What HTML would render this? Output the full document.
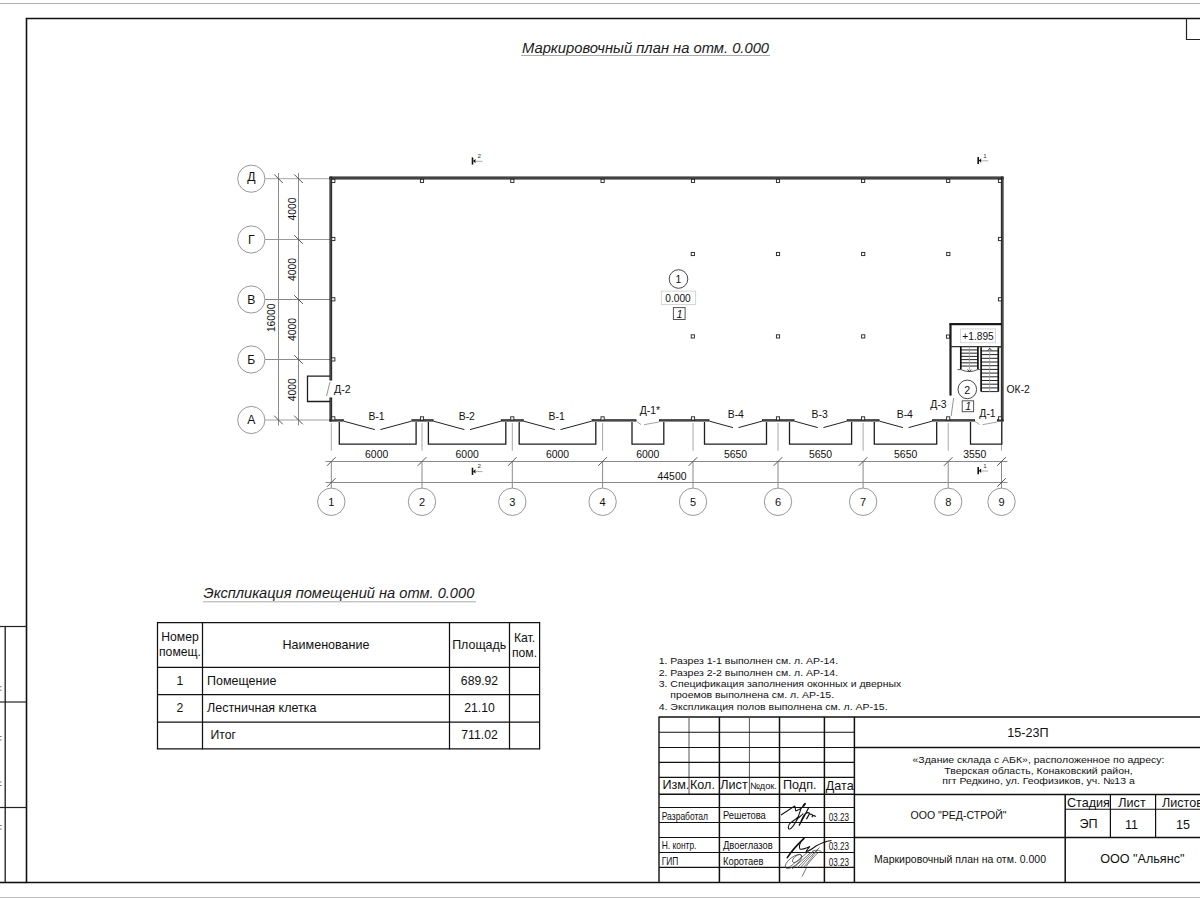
<!DOCTYPE html>
<html><head><meta charset="utf-8"><style>
html,body{margin:0;padding:0;background:#fff;width:1200px;height:900px;overflow:hidden}
svg{display:block}
text{font-family:"Liberation Sans", sans-serif}
</style></head><body>
<svg width="1200" height="900" viewBox="0 0 1200 900" style="font-family:"Liberation Sans", sans-serif">
<line x1="0" y1="3.5" x2="1200" y2="3.5" stroke="#b0b0b0" stroke-width="1" />
<line x1="0" y1="897.5" x2="1200" y2="897.5" stroke="#c0c0c0" stroke-width="1" />
<polyline points="1201,18.5 26.5,18.5 26.5,882.5 1201,882.5" stroke="#111" stroke-width="1.6" fill="none" />
<polyline points="1186.5,18 1186.5,39.5 1201,39.5" stroke="#222" stroke-width="1.2" fill="none" />
<line x1="0" y1="626.5" x2="26.5" y2="626.5" stroke="#222" stroke-width="1.2" />
<line x1="0" y1="702" x2="26.5" y2="702" stroke="#222" stroke-width="1.2" />
<line x1="0" y1="807.5" x2="26.5" y2="807.5" stroke="#222" stroke-width="1.2" />
<line x1="5.2" y1="626.5" x2="5.2" y2="882.5" stroke="#1a1a1a" stroke-width="1.3" />
<line x1="0" y1="882.5" x2="26.5" y2="882.5" stroke="#111" stroke-width="1.6" />
<line x1="0" y1="686.7" x2="1.6" y2="686.7" stroke="#777" stroke-width="1" />
<line x1="0" y1="690.2" x2="1.6" y2="690.2" stroke="#777" stroke-width="1" />
<line x1="0" y1="736.5" x2="1.6" y2="736.5" stroke="#777" stroke-width="1" />
<line x1="0" y1="740.0" x2="1.6" y2="740.0" stroke="#777" stroke-width="1" />
<line x1="0" y1="782" x2="1.6" y2="782" stroke="#777" stroke-width="1" />
<line x1="0" y1="785.5" x2="1.6" y2="785.5" stroke="#777" stroke-width="1" />
<line x1="0" y1="825.5" x2="1.6" y2="825.5" stroke="#777" stroke-width="1" />
<line x1="0" y1="829.0" x2="1.6" y2="829.0" stroke="#777" stroke-width="1" />
<text x="522" y="52.5" font-size="14.75" text-anchor="start" fill="#1a1a1a"  style="font-style:italic">Маркировочный план на отм. 0.000</text>
<line x1="521" y1="55.5" x2="770" y2="55.5" stroke="#aaa" stroke-width="1" />
<line x1="265" y1="178.7" x2="330" y2="178.7" stroke="#b8b8b8" stroke-width="1.2" />
<circle cx="251.3" cy="178.7" r="13.6" stroke="#8c8c8c" stroke-width="0.9" fill="white"/>
<text x="251.3" y="180.89999999999998" font-size="12.2" text-anchor="middle" fill="#111"  style="">Д</text>
<line x1="265" y1="239.5" x2="330" y2="239.5" stroke="#999" stroke-width="1" />
<circle cx="251.3" cy="239.5" r="13.6" stroke="#8c8c8c" stroke-width="0.9" fill="white"/>
<text x="251.3" y="243.9" font-size="12.2" text-anchor="middle" fill="#111"  style="">Г</text>
<line x1="265" y1="299.5" x2="330" y2="299.5" stroke="#858585" stroke-width="1.1" />
<circle cx="251.3" cy="299.5" r="13.6" stroke="#8c8c8c" stroke-width="0.9" fill="white"/>
<text x="251.3" y="303.9" font-size="12.2" text-anchor="middle" fill="#111"  style="">В</text>
<line x1="265" y1="359.5" x2="330" y2="359.5" stroke="#8c8c8c" stroke-width="1" />
<circle cx="251.3" cy="359.5" r="13.6" stroke="#8c8c8c" stroke-width="0.9" fill="white"/>
<text x="251.3" y="363.9" font-size="12.2" text-anchor="middle" fill="#111"  style="">Б</text>
<line x1="265" y1="420.0" x2="330" y2="420.0" stroke="#cfcfcf" stroke-width="1.8" />
<circle cx="251.3" cy="420.0" r="13.6" stroke="#8c8c8c" stroke-width="0.9" fill="white"/>
<text x="251.3" y="424.4" font-size="12.2" text-anchor="middle" fill="#111"  style="">А</text>
<line x1="278.5" y1="173" x2="278.5" y2="425.5" stroke="#8a8a8a" stroke-width="1" />
<line x1="298.5" y1="173" x2="298.5" y2="425.5" stroke="#8a8a8a" stroke-width="1" />
<line x1="274.2" y1="174.39999999999998" x2="282.8" y2="183.0" stroke="#555" stroke-width="1" />
<line x1="274.2" y1="415.7" x2="282.8" y2="424.3" stroke="#555" stroke-width="1" />
<line x1="294.2" y1="174.39999999999998" x2="302.8" y2="183.0" stroke="#555" stroke-width="1" />
<line x1="294.2" y1="235.2" x2="302.8" y2="243.8" stroke="#555" stroke-width="1" />
<line x1="294.2" y1="295.2" x2="302.8" y2="303.8" stroke="#555" stroke-width="1" />
<line x1="294.2" y1="355.2" x2="302.8" y2="363.8" stroke="#555" stroke-width="1" />
<line x1="294.2" y1="415.7" x2="302.8" y2="424.3" stroke="#555" stroke-width="1" />
<text x="0" y="0" font-size="10.3" text-anchor="middle" fill="#111" transform="translate(295.5,209.1) rotate(-90)">4000</text>
<text x="0" y="0" font-size="10.3" text-anchor="middle" fill="#111" transform="translate(295.5,269.5) rotate(-90)">4000</text>
<text x="0" y="0" font-size="10.3" text-anchor="middle" fill="#111" transform="translate(295.5,329.5) rotate(-90)">4000</text>
<text x="0" y="0" font-size="10.3" text-anchor="middle" fill="#111" transform="translate(295.5,389.75) rotate(-90)">4000</text>
<text x="0" y="0" font-size="10.3" text-anchor="middle" fill="#111" transform="translate(275.4,317.8) rotate(-90)">16000</text>
<line x1="331.3" y1="423" x2="331.3" y2="450.7" stroke="#a8a8a8" stroke-width="1" />
<line x1="331.3" y1="461.3" x2="331.3" y2="488" stroke="#8a8a8a" stroke-width="1" />
<circle cx="331.3" cy="501.8" r="13.7" stroke="#8c8c8c" stroke-width="0.9" fill="white"/>
<text x="331.3" y="506.2" font-size="11" text-anchor="middle" fill="#111"  style="">1</text>
<line x1="422.0" y1="423" x2="422.0" y2="450.7" stroke="#a8a8a8" stroke-width="1" />
<line x1="422.0" y1="461.3" x2="422.0" y2="488" stroke="#8a8a8a" stroke-width="1" />
<circle cx="422.0" cy="501.8" r="13.7" stroke="#8c8c8c" stroke-width="0.9" fill="white"/>
<text x="422.0" y="506.2" font-size="11" text-anchor="middle" fill="#111"  style="">2</text>
<line x1="512.3" y1="423" x2="512.3" y2="450.7" stroke="#a8a8a8" stroke-width="1" />
<line x1="512.3" y1="461.3" x2="512.3" y2="488" stroke="#8a8a8a" stroke-width="1" />
<circle cx="512.3" cy="501.8" r="13.7" stroke="#8c8c8c" stroke-width="0.9" fill="white"/>
<text x="512.3" y="506.2" font-size="11" text-anchor="middle" fill="#111"  style="">3</text>
<line x1="602.6" y1="423" x2="602.6" y2="450.7" stroke="#a8a8a8" stroke-width="1" />
<line x1="602.6" y1="461.3" x2="602.6" y2="488" stroke="#8a8a8a" stroke-width="1" />
<circle cx="602.6" cy="501.8" r="13.7" stroke="#8c8c8c" stroke-width="0.9" fill="white"/>
<text x="602.6" y="506.2" font-size="11" text-anchor="middle" fill="#111"  style="">4</text>
<line x1="693.0" y1="423" x2="693.0" y2="450.7" stroke="#a8a8a8" stroke-width="1" />
<line x1="693.0" y1="461.3" x2="693.0" y2="488" stroke="#8a8a8a" stroke-width="1" />
<circle cx="693.0" cy="501.8" r="13.7" stroke="#8c8c8c" stroke-width="0.9" fill="white"/>
<text x="693.0" y="506.2" font-size="11" text-anchor="middle" fill="#111"  style="">5</text>
<line x1="778.0" y1="423" x2="778.0" y2="450.7" stroke="#a8a8a8" stroke-width="1" />
<line x1="778.0" y1="461.3" x2="778.0" y2="488" stroke="#8a8a8a" stroke-width="1" />
<circle cx="778.0" cy="501.8" r="13.7" stroke="#8c8c8c" stroke-width="0.9" fill="white"/>
<text x="778.0" y="506.2" font-size="11" text-anchor="middle" fill="#111"  style="">6</text>
<line x1="863.1" y1="423" x2="863.1" y2="450.7" stroke="#a8a8a8" stroke-width="1" />
<line x1="863.1" y1="461.3" x2="863.1" y2="488" stroke="#8a8a8a" stroke-width="1" />
<circle cx="863.1" cy="501.8" r="13.7" stroke="#8c8c8c" stroke-width="0.9" fill="white"/>
<text x="863.1" y="506.2" font-size="11" text-anchor="middle" fill="#111"  style="">7</text>
<line x1="948.2" y1="423" x2="948.2" y2="450.7" stroke="#a8a8a8" stroke-width="1" />
<line x1="948.2" y1="461.3" x2="948.2" y2="488" stroke="#8a8a8a" stroke-width="1" />
<circle cx="948.2" cy="501.8" r="13.7" stroke="#8c8c8c" stroke-width="0.9" fill="white"/>
<text x="948.2" y="506.2" font-size="11" text-anchor="middle" fill="#111"  style="">8</text>
<line x1="1001.5" y1="423" x2="1001.5" y2="450.7" stroke="#a8a8a8" stroke-width="1" />
<line x1="1001.5" y1="461.3" x2="1001.5" y2="488" stroke="#8a8a8a" stroke-width="1" />
<circle cx="1001.5" cy="501.8" r="13.7" stroke="#8c8c8c" stroke-width="0.9" fill="white"/>
<text x="1001.5" y="506.2" font-size="11" text-anchor="middle" fill="#111"  style="">9</text>
<line x1="325.5" y1="461.5" x2="1007.5" y2="461.5" stroke="#8a8a8a" stroke-width="1" />
<line x1="325.5" y1="482.5" x2="1007.5" y2="482.5" stroke="#8a8a8a" stroke-width="1" />
<line x1="327.0" y1="465.8" x2="335.6" y2="457.2" stroke="#555" stroke-width="1" />
<line x1="417.7" y1="465.8" x2="426.3" y2="457.2" stroke="#555" stroke-width="1" />
<line x1="507.99999999999994" y1="465.8" x2="516.5999999999999" y2="457.2" stroke="#555" stroke-width="1" />
<line x1="598.3000000000001" y1="465.8" x2="606.9" y2="457.2" stroke="#555" stroke-width="1" />
<line x1="688.7" y1="465.8" x2="697.3" y2="457.2" stroke="#555" stroke-width="1" />
<line x1="773.7" y1="465.8" x2="782.3" y2="457.2" stroke="#555" stroke-width="1" />
<line x1="858.8000000000001" y1="465.8" x2="867.4" y2="457.2" stroke="#555" stroke-width="1" />
<line x1="943.9000000000001" y1="465.8" x2="952.5" y2="457.2" stroke="#555" stroke-width="1" />
<line x1="997.2" y1="465.8" x2="1005.8" y2="457.2" stroke="#555" stroke-width="1" />
<line x1="327.0" y1="486.8" x2="335.6" y2="478.2" stroke="#555" stroke-width="1" />
<line x1="997.2" y1="486.8" x2="1005.8" y2="478.2" stroke="#555" stroke-width="1" />
<text x="376.65" y="458.2" font-size="10.4" text-anchor="middle" fill="#111"  style="">6000</text>
<text x="467.15" y="458.2" font-size="10.4" text-anchor="middle" fill="#111"  style="">6000</text>
<text x="557.45" y="458.2" font-size="10.4" text-anchor="middle" fill="#111"  style="">6000</text>
<text x="647.8" y="458.2" font-size="10.4" text-anchor="middle" fill="#111"  style="">6000</text>
<text x="735.5" y="458.2" font-size="10.4" text-anchor="middle" fill="#111"  style="">5650</text>
<text x="820.55" y="458.2" font-size="10.4" text-anchor="middle" fill="#111"  style="">5650</text>
<text x="905.6500000000001" y="458.2" font-size="10.4" text-anchor="middle" fill="#111"  style="">5650</text>
<text x="974.85" y="458.2" font-size="10.4" text-anchor="middle" fill="#111"  style="">3550</text>
<text x="672" y="479.8" font-size="10.4" text-anchor="middle" fill="#111"  style="">44500</text>
<line x1="329.5" y1="178.0" x2="1003.5" y2="178.0" stroke="#1c1c1c" stroke-width="2.9" />
<line x1="330.5" y1="178.0" x2="1002.5" y2="178.0" stroke="#6a6a6a" stroke-width="1.0" />
<line x1="330.8" y1="176.6" x2="330.8" y2="380.5" stroke="#1c1c1c" stroke-width="2.7" />
<line x1="330.8" y1="177.6" x2="330.8" y2="379.5" stroke="#6a6a6a" stroke-width="0.8000000000000003" />
<line x1="330.8" y1="397.5" x2="330.8" y2="421.5" stroke="#1c1c1c" stroke-width="2.7" />
<line x1="330.8" y1="398.5" x2="330.8" y2="420.5" stroke="#6a6a6a" stroke-width="0.8000000000000003" />
<line x1="1002.2" y1="176.6" x2="1002.2" y2="421.5" stroke="#1c1c1c" stroke-width="2.7" />
<line x1="1002.2" y1="177.6" x2="1002.2" y2="420.5" stroke="#6a6a6a" stroke-width="0.8000000000000003" />
<line x1="329.5" y1="420.4" x2="343.8" y2="420.4" stroke="#1c1c1c" stroke-width="2.3" />
<line x1="330.5" y1="420.4" x2="342.8" y2="420.4" stroke="#6a6a6a" stroke-width="0.6" />
<line x1="411.4" y1="420.4" x2="433.6" y2="420.4" stroke="#1c1c1c" stroke-width="2.3" />
<line x1="412.4" y1="420.4" x2="432.6" y2="420.4" stroke="#6a6a6a" stroke-width="0.6" />
<line x1="500.8" y1="420.4" x2="523.8" y2="420.4" stroke="#1c1c1c" stroke-width="2.3" />
<line x1="501.8" y1="420.4" x2="522.8" y2="420.4" stroke="#6a6a6a" stroke-width="0.6" />
<line x1="591.6" y1="420.4" x2="636.5" y2="420.4" stroke="#1c1c1c" stroke-width="2.3" />
<line x1="592.6" y1="420.4" x2="635.5" y2="420.4" stroke="#6a6a6a" stroke-width="0.6" />
<line x1="659" y1="420.4" x2="709.5" y2="420.4" stroke="#1c1c1c" stroke-width="2.3" />
<line x1="660" y1="420.4" x2="708.5" y2="420.4" stroke="#6a6a6a" stroke-width="0.6" />
<line x1="762" y1="420.4" x2="794.5" y2="420.4" stroke="#1c1c1c" stroke-width="2.3" />
<line x1="763" y1="420.4" x2="793.5" y2="420.4" stroke="#6a6a6a" stroke-width="0.6" />
<line x1="846.7" y1="420.4" x2="879.6" y2="420.4" stroke="#1c1c1c" stroke-width="2.3" />
<line x1="847.7" y1="420.4" x2="878.6" y2="420.4" stroke="#6a6a6a" stroke-width="0.6" />
<line x1="932" y1="420.4" x2="975" y2="420.4" stroke="#1c1c1c" stroke-width="2.3" />
<line x1="933" y1="420.4" x2="974" y2="420.4" stroke="#6a6a6a" stroke-width="0.6" />
<line x1="997" y1="420.4" x2="1003.5" y2="420.4" stroke="#1c1c1c" stroke-width="2.3" />
<line x1="998" y1="420.4" x2="1002.5" y2="420.4" stroke="#6a6a6a" stroke-width="0.6" />
<polyline points="343.8,421.2 374.8,429.6" stroke="#222" stroke-width="1" fill="none" />
<polyline points="380.40000000000003,429.6 411.4,421.2" stroke="#222" stroke-width="1" fill="none" />
<polyline points="433.6,421.2 464.40000000000003,429.6" stroke="#222" stroke-width="1" fill="none" />
<polyline points="470.00000000000006,429.6 500.8,421.2" stroke="#222" stroke-width="1" fill="none" />
<polyline points="523.8,421.2 554.9000000000001,429.6" stroke="#222" stroke-width="1" fill="none" />
<polyline points="560.5,429.6 591.6,421.2" stroke="#222" stroke-width="1" fill="none" />
<polyline points="709.5,421.2 732.95,427.6" stroke="#222" stroke-width="1" fill="none" />
<polyline points="738.55,427.6 762,421.2" stroke="#222" stroke-width="1" fill="none" />
<polyline points="794.5,421.2 817.8000000000001,427.6" stroke="#222" stroke-width="1" fill="none" />
<polyline points="823.4,427.6 846.7,421.2" stroke="#222" stroke-width="1" fill="none" />
<polyline points="879.6,421.2 903.0,427.6" stroke="#222" stroke-width="1" fill="none" />
<polyline points="908.5999999999999,427.6 932,421.2" stroke="#222" stroke-width="1" fill="none" />
<polyline points="636.5,421.5 641.0,424.5" stroke="#999" stroke-width="0.9" fill="none" />
<polyline points="644.0,424.7 659,422" stroke="#999" stroke-width="0.9" fill="none" />
<polyline points="975,421.5 979.5,424.5" stroke="#999" stroke-width="0.9" fill="none" />
<polyline points="982.5,424.7 997,422" stroke="#999" stroke-width="0.9" fill="none" />
<polyline points="339.3,422 339.3,444.2 416.1,444.2 416.1,422" stroke="#1e1e1e" stroke-width="1.3" fill="none" />
<polyline points="428.4,422 428.4,444.2 505.8,444.2 505.8,422" stroke="#1e1e1e" stroke-width="1.3" fill="none" />
<polyline points="519.2,422 519.2,444.2 595.8,444.2 595.8,422" stroke="#1e1e1e" stroke-width="1.3" fill="none" />
<polyline points="632,422 632,444.2 663.8,444.2 663.8,422" stroke="#1e1e1e" stroke-width="1.3" fill="none" />
<polyline points="704.5,422 704.5,444.2 766.5,444.2 766.5,422" stroke="#1e1e1e" stroke-width="1.3" fill="none" />
<polyline points="789.5,422 789.5,444.2 851.6,444.2 851.6,422" stroke="#1e1e1e" stroke-width="1.3" fill="none" />
<polyline points="874.3,422 874.3,444.2 936.7,444.2 936.7,422" stroke="#1e1e1e" stroke-width="1.3" fill="none" />
<polyline points="970.5,422 970.5,444.2 1001.8,444.2 1001.8,422" stroke="#1e1e1e" stroke-width="1.3" fill="none" />
<polyline points="330,376.2 307.5,376.2 307.5,401.5 330,401.5" stroke="#1e1e1e" stroke-width="1.3" fill="none" />
<line x1="330" y1="382" x2="326.5" y2="396" stroke="#888" stroke-width="0.9" />
<text x="334" y="392.5" font-size="10.6" text-anchor="start" fill="#111"  style="">Д-2</text>
<text x="376.5" y="419.7" font-size="10.4" text-anchor="middle" fill="#111"  style="">В-1</text>
<text x="466.8" y="419.7" font-size="10.4" text-anchor="middle" fill="#111"  style="">В-2</text>
<text x="556.7" y="419.7" font-size="10.4" text-anchor="middle" fill="#111"  style="">В-1</text>
<text x="735.8" y="417.9" font-size="10.4" text-anchor="middle" fill="#111"  style="">В-4</text>
<text x="819.7" y="417.9" font-size="10.4" text-anchor="middle" fill="#111"  style="">В-3</text>
<text x="904.8" y="417.9" font-size="10.4" text-anchor="middle" fill="#111"  style="">В-4</text>
<text x="650" y="414.4" font-size="10.4" text-anchor="middle" fill="#111"  style="">Д-1*</text>
<text x="938.5" y="408.2" font-size="10.4" text-anchor="middle" fill="#111"  style="">Д-3</text>
<text x="987.5" y="416.6" font-size="10.4" text-anchor="middle" fill="#111"  style="">Д-1</text>
<text x="1006.5" y="392.5" font-size="10.4" text-anchor="start" fill="#111"  style="">ОК-2</text>
<rect x="420.4" y="179.3" width="3.2" height="3.2" stroke="#222" stroke-width="0.9" fill="white" />
<rect x="420.4" y="416.79999999999995" width="3.2" height="3.2" stroke="#222" stroke-width="0.9" fill="white" />
<rect x="510.69999999999993" y="179.3" width="3.2" height="3.2" stroke="#222" stroke-width="0.9" fill="white" />
<rect x="510.69999999999993" y="416.79999999999995" width="3.2" height="3.2" stroke="#222" stroke-width="0.9" fill="white" />
<rect x="601.0" y="179.3" width="3.2" height="3.2" stroke="#222" stroke-width="0.9" fill="white" />
<rect x="601.0" y="416.79999999999995" width="3.2" height="3.2" stroke="#222" stroke-width="0.9" fill="white" />
<rect x="691.4" y="179.3" width="3.2" height="3.2" stroke="#222" stroke-width="0.9" fill="white" />
<rect x="691.4" y="416.79999999999995" width="3.2" height="3.2" stroke="#222" stroke-width="0.9" fill="white" />
<rect x="776.4" y="179.3" width="3.2" height="3.2" stroke="#222" stroke-width="0.9" fill="white" />
<rect x="776.4" y="416.79999999999995" width="3.2" height="3.2" stroke="#222" stroke-width="0.9" fill="white" />
<rect x="861.5" y="179.3" width="3.2" height="3.2" stroke="#222" stroke-width="0.9" fill="white" />
<rect x="861.5" y="416.79999999999995" width="3.2" height="3.2" stroke="#222" stroke-width="0.9" fill="white" />
<rect x="946.6" y="179.3" width="3.2" height="3.2" stroke="#222" stroke-width="0.9" fill="white" />
<rect x="946.6" y="416.79999999999995" width="3.2" height="3.2" stroke="#222" stroke-width="0.9" fill="white" />
<rect x="331.7" y="179.3" width="3.2" height="3.2" stroke="#222" stroke-width="0.9" fill="white" />
<rect x="998.4" y="179.3" width="3.2" height="3.2" stroke="#222" stroke-width="0.9" fill="white" />
<rect x="331.7" y="416.79999999999995" width="3.2" height="3.2" stroke="#222" stroke-width="0.9" fill="white" />
<rect x="998.4" y="416.79999999999995" width="3.2" height="3.2" stroke="#222" stroke-width="0.9" fill="white" />
<rect x="331.7" y="237.4" width="3.2" height="3.2" stroke="#222" stroke-width="0.9" fill="white" />
<rect x="331.7" y="297.7" width="3.2" height="3.2" stroke="#222" stroke-width="0.9" fill="white" />
<rect x="331.7" y="357.79999999999995" width="3.2" height="3.2" stroke="#222" stroke-width="0.9" fill="white" />
<rect x="998.4" y="237.4" width="3.2" height="3.2" stroke="#222" stroke-width="0.9" fill="white" />
<rect x="998.4" y="297.7" width="3.2" height="3.2" stroke="#222" stroke-width="0.9" fill="white" />
<rect x="691.1999999999999" y="252.4" width="3.2" height="3.2" stroke="#222" stroke-width="0.9" fill="white" />
<rect x="776.4" y="252.4" width="3.2" height="3.2" stroke="#222" stroke-width="0.9" fill="white" />
<rect x="861.6" y="252.4" width="3.2" height="3.2" stroke="#222" stroke-width="0.9" fill="white" />
<rect x="946.6999999999999" y="252.4" width="3.2" height="3.2" stroke="#222" stroke-width="0.9" fill="white" />
<rect x="691.1999999999999" y="334.79999999999995" width="3.2" height="3.2" stroke="#222" stroke-width="0.9" fill="white" />
<rect x="776.4" y="334.79999999999995" width="3.2" height="3.2" stroke="#222" stroke-width="0.9" fill="white" />
<rect x="861.6" y="334.79999999999995" width="3.2" height="3.2" stroke="#222" stroke-width="0.9" fill="white" />
<rect x="946.5" y="335.0" width="3.2" height="3.2" stroke="#222" stroke-width="0.9" fill="white" />
<line x1="949.4" y1="324.2" x2="1002" y2="324.2" stroke="#1c1c1c" stroke-width="2.2" />
<line x1="950.5" y1="323.5" x2="950.5" y2="395.6" stroke="#1c1c1c" stroke-width="2.2" />
<line x1="950.5" y1="346.7" x2="1002" y2="346.7" stroke="#333" stroke-width="1.2" />
<line x1="953.6" y1="398" x2="951.2" y2="416" stroke="#888" stroke-width="0.9" />
<rect x="960.6" y="328.9" width="34.9" height="13.8" stroke="#d8d8d8" stroke-width="1" fill="white" />
<text x="978" y="339.6" font-size="10.2" text-anchor="middle" fill="#111"  style="">+1.895</text>
<line x1="960.8" y1="349.92857142857144" x2="977.9" y2="349.92857142857144" stroke="#222" stroke-width="1.0" />
<line x1="960.8" y1="353.15714285714284" x2="977.9" y2="353.15714285714284" stroke="#222" stroke-width="1.0" />
<line x1="960.8" y1="356.3857142857143" x2="977.9" y2="356.3857142857143" stroke="#222" stroke-width="1.0" />
<line x1="960.8" y1="359.6142857142857" x2="977.9" y2="359.6142857142857" stroke="#222" stroke-width="1.0" />
<line x1="960.8" y1="362.84285714285716" x2="977.9" y2="362.84285714285716" stroke="#222" stroke-width="1.0" />
<line x1="960.8" y1="366.07142857142856" x2="977.9" y2="366.07142857142856" stroke="#222" stroke-width="1.0" />
<line x1="960.8" y1="346.7" x2="960.8" y2="369.3" stroke="#111" stroke-width="1.7" />
<line x1="977.9" y1="346.7" x2="977.9" y2="369.3" stroke="#111" stroke-width="1.7" />
<line x1="969.3499999999999" y1="346.7" x2="969.3499999999999" y2="369.8" stroke="#999" stroke-width="0.8" />
<path d="M957.5,369.6 L961,369.6 Q969.3,373.6 977.6,369.6 L980,369.6" stroke="#444" stroke-width="0.9" fill="none"/>
<path d="M967.6,369.4 L969.4,371.8 L971.2,369.4" stroke="#222" stroke-width="0.9" fill="none"/>
<line x1="981.1" y1="350.9" x2="998.3" y2="350.9" stroke="#222" stroke-width="1.0" />
<line x1="981.1" y1="354.6" x2="998.3" y2="354.6" stroke="#222" stroke-width="1.0" />
<line x1="981.1" y1="358.3" x2="998.3" y2="358.3" stroke="#222" stroke-width="1.0" />
<line x1="981.1" y1="362.0" x2="998.3" y2="362.0" stroke="#222" stroke-width="1.0" />
<line x1="981.1" y1="365.7" x2="998.3" y2="365.7" stroke="#222" stroke-width="1.0" />
<line x1="981.1" y1="369.4" x2="998.3" y2="369.4" stroke="#222" stroke-width="1.0" />
<line x1="981.1" y1="373.1" x2="998.3" y2="373.1" stroke="#222" stroke-width="1.0" />
<line x1="981.1" y1="376.8" x2="998.3" y2="376.8" stroke="#222" stroke-width="1.0" />
<line x1="981.1" y1="380.5" x2="998.3" y2="380.5" stroke="#222" stroke-width="1.0" />
<line x1="981.1" y1="384.20000000000005" x2="998.3" y2="384.20000000000005" stroke="#222" stroke-width="1.0" />
<line x1="981.1" y1="387.90000000000003" x2="998.3" y2="387.90000000000003" stroke="#222" stroke-width="1.0" />
<line x1="981.1" y1="391.6" x2="998.3" y2="391.6" stroke="#222" stroke-width="1.0" />
<line x1="981.1" y1="347.2" x2="981.1" y2="391.6" stroke="#111" stroke-width="1.7" />
<line x1="998.3" y1="347.2" x2="998.3" y2="391.6" stroke="#111" stroke-width="1.7" />
<line x1="989.7" y1="347.2" x2="989.7" y2="392.1" stroke="#999" stroke-width="0.8" />
<path d="M987.8,350.5 L989.8,348.3 L991.8,350.5" stroke="#222" stroke-width="0.9" fill="none"/>
<line x1="998.6" y1="347" x2="1002" y2="347" stroke="#333" stroke-width="1" />
<circle cx="967.3" cy="389.4" r="9.3" stroke="#333" stroke-width="0.9" fill="none"/>
<text x="967.3" y="394.0" font-size="10.6" text-anchor="middle" fill="#111"  style="">2</text>
<rect x="962.2" y="400.8" width="11.4" height="10.9" stroke="#555" stroke-width="1" fill="none" />
<text x="968.2" y="410.2" font-size="10.6" text-anchor="middle" fill="#111"  style="font-style:italic">1</text>
<circle cx="678.5" cy="279" r="9.3" stroke="#333" stroke-width="0.9" fill="none"/>
<text x="678.5" y="283" font-size="10.4" text-anchor="middle" fill="#111"  style="">1</text>
<rect x="661.4" y="291.1" width="34.2" height="13.4" stroke="#d5d5d5" stroke-width="1" fill="white" />
<text x="678" y="301.6" font-size="10.2" text-anchor="middle" fill="#111"  style="">0.000</text>
<rect x="673.4" y="307.6" width="11.7" height="11.9" stroke="#555" stroke-width="1" fill="none" />
<text x="679.5" y="317.5" font-size="10.8" text-anchor="middle" fill="#111"  style="font-style:italic">1</text>
<line x1="472.5" y1="157.4" x2="472.5" y2="164.6" stroke="#111" stroke-width="1.6" />
<path d="M473.0,161.1 L475.5,158.9 L475.5,163.29999999999998 Z" fill="#111"/>
<line x1="475.5" y1="161.29999999999998" x2="482.5" y2="161.29999999999998" stroke="#aaa" stroke-width="1" />
<text x="479.3" y="158.1" font-size="6.2" text-anchor="middle" fill="#333"  style="">2</text>
<line x1="472.5" y1="467.7" x2="472.5" y2="474.9" stroke="#111" stroke-width="1.6" />
<path d="M473.0,471.4 L475.5,469.2 L475.5,473.59999999999997 Z" fill="#111"/>
<line x1="475.5" y1="471.59999999999997" x2="482.5" y2="471.59999999999997" stroke="#aaa" stroke-width="1" />
<text x="479.3" y="468.4" font-size="6.2" text-anchor="middle" fill="#333"  style="">2</text>
<line x1="978.2" y1="156.9" x2="978.2" y2="164.1" stroke="#111" stroke-width="1.6" />
<path d="M978.7,160.6 L981.2,158.4 L981.2,162.79999999999998 Z" fill="#111"/>
<line x1="981.2" y1="160.79999999999998" x2="988.2" y2="160.79999999999998" stroke="#aaa" stroke-width="1" />
<text x="985.0" y="157.6" font-size="6.2" text-anchor="middle" fill="#333"  style="">1</text>
<line x1="978.2" y1="467.1" x2="978.2" y2="474.3" stroke="#111" stroke-width="1.6" />
<path d="M978.7,470.8 L981.2,468.6 L981.2,473.0 Z" fill="#111"/>
<line x1="981.2" y1="471.0" x2="988.2" y2="471.0" stroke="#aaa" stroke-width="1" />
<text x="985.0" y="467.8" font-size="6.2" text-anchor="middle" fill="#333"  style="">1</text>
<text x="203.5" y="598.3" font-size="14.65" text-anchor="start" fill="#1a1a1a"  style="font-style:italic">Экспликация помещений на отм. 0.000</text>
<line x1="203" y1="601.8" x2="476" y2="601.8" stroke="#aaa" stroke-width="1" />
<line x1="157.5" y1="621.9" x2="157.5" y2="749.4" stroke="#111" stroke-width="1.25" />
<line x1="202.5" y1="621.9" x2="202.5" y2="749.4" stroke="#111" stroke-width="1.25" />
<line x1="449.5" y1="621.9" x2="449.5" y2="749.4" stroke="#111" stroke-width="1.25" />
<line x1="509.5" y1="621.9" x2="509.5" y2="749.4" stroke="#111" stroke-width="1.25" />
<line x1="539.6" y1="621.9" x2="539.6" y2="749.4" stroke="#111" stroke-width="1.25" />
<line x1="157.5" y1="622.5" x2="539.6" y2="622.5" stroke="#111" stroke-width="1.25" />
<line x1="157.5" y1="667.3" x2="539.6" y2="667.3" stroke="#111" stroke-width="1.25" />
<line x1="157.5" y1="694.7" x2="539.6" y2="694.7" stroke="#111" stroke-width="1.25" />
<line x1="157.5" y1="722.1" x2="539.6" y2="722.1" stroke="#111" stroke-width="1.25" />
<line x1="157.5" y1="748.8" x2="539.6" y2="748.8" stroke="#111" stroke-width="1.25" />
<text x="180" y="641" font-size="12.2" text-anchor="middle" fill="#111"  style="">Номер</text>
<text x="180" y="656" font-size="12.2" text-anchor="middle" fill="#111"  style="">помещ.</text>
<text x="0" y="0" font-size="12.2" text-anchor="middle" fill="#111" transform="translate(326,649.3) scale(1.03,1)">Наименование</text>
<text x="0" y="0" font-size="12.2" text-anchor="middle" fill="#111" transform="translate(479.2,649) scale(1.02,1)">Площадь</text>
<text x="524.5" y="641.7" font-size="12.2" text-anchor="middle" fill="#111"  style="">Кат.</text>
<text x="524.5" y="656.7" font-size="12.2" text-anchor="middle" fill="#111"  style="">пом.</text>
<text x="180" y="685.3" font-size="12.2" text-anchor="middle" fill="#111"  style="">1</text>
<text x="0" y="0" font-size="12.2" text-anchor="start" fill="#111" transform="translate(207,685.3) scale(1.025,1)">Помещение</text>
<text x="479.5" y="685.3" font-size="12.2" text-anchor="middle" fill="#111"  style="">689.92</text>
<text x="180" y="712" font-size="12.2" text-anchor="middle" fill="#111"  style="">2</text>
<text x="0" y="0" font-size="12.2" text-anchor="start" fill="#111" transform="translate(207,712) scale(1.025,1)">Лестничная клетка</text>
<text x="479.5" y="712" font-size="12.2" text-anchor="middle" fill="#111"  style="">21.10</text>
<text x="210.5" y="739.2" font-size="12.2" text-anchor="start" fill="#111"  style="">Итог</text>
<text x="479.5" y="739.2" font-size="12.2" text-anchor="middle" fill="#111"  style="">711.02</text>
<text x="0" y="0" font-size="9.15" text-anchor="start" fill="#111" transform="translate(658.7,664.4) scale(1.148,1)">1. Разрез 1-1 выполнен см. л. АР-14.</text>
<text x="0" y="0" font-size="9.15" text-anchor="start" fill="#111" transform="translate(658.7,675.7) scale(1.148,1)">2. Разрез 2-2 выполнен см. л. АР-14.</text>
<text x="0" y="0" font-size="9.15" text-anchor="start" fill="#111" transform="translate(658.7,686.9) scale(1.148,1)">3. Спецификация заполнения оконных и дверных</text>
<text x="0" y="0" font-size="9.15" text-anchor="start" fill="#111" transform="translate(670.3,698.1) scale(1.148,1)">проемов выполнена см. л. АР-15.</text>
<text x="0" y="0" font-size="9.15" text-anchor="start" fill="#111" transform="translate(658.7,709.6) scale(1.148,1)">4. Экспликация полов выполнена см. л. АР-15.</text>
<line x1="658.5" y1="717" x2="1201" y2="717" stroke="#111" stroke-width="1.6" />
<line x1="659" y1="717" x2="659" y2="882.5" stroke="#111" stroke-width="1.4" />
<line x1="719.4" y1="717" x2="719.4" y2="882.5" stroke="#111" stroke-width="1.5" />
<line x1="779.5" y1="717" x2="779.5" y2="882.5" stroke="#111" stroke-width="1.5" />
<line x1="824.4" y1="717" x2="824.4" y2="882.5" stroke="#111" stroke-width="1.5" />
<line x1="854.4" y1="717" x2="854.4" y2="882.5" stroke="#111" stroke-width="1.5" />
<line x1="689" y1="717" x2="689" y2="794.3" stroke="#555" stroke-width="1" />
<line x1="749.4" y1="717" x2="749.4" y2="794.3" stroke="#555" stroke-width="1" />
<line x1="659" y1="732.3" x2="854.4" y2="732.3" stroke="#111" stroke-width="1.1" />
<line x1="659" y1="747.5" x2="854.4" y2="747.5" stroke="#111" stroke-width="1.1" />
<line x1="659" y1="762.4" x2="854.4" y2="762.4" stroke="#111" stroke-width="1.1" />
<line x1="659" y1="777.4" x2="854.4" y2="777.4" stroke="#111" stroke-width="1.1" />
<line x1="659" y1="794.3" x2="854.4" y2="794.3" stroke="#111" stroke-width="1.4" />
<line x1="659" y1="807.5" x2="854.4" y2="807.5" stroke="#111" stroke-width="1.1" />
<line x1="659" y1="822.5" x2="854.4" y2="822.5" stroke="#111" stroke-width="1.1" />
<line x1="659" y1="837.5" x2="854.4" y2="837.5" stroke="#111" stroke-width="1.1" />
<line x1="659" y1="852.5" x2="854.4" y2="852.5" stroke="#111" stroke-width="1.1" />
<line x1="659" y1="867.4" x2="854.4" y2="867.4" stroke="#111" stroke-width="1.1" />
<line x1="854.4" y1="747.4" x2="1201" y2="747.4" stroke="#111" stroke-width="1.5" />
<line x1="854.4" y1="794.5" x2="1201" y2="794.5" stroke="#111" stroke-width="1.5" />
<line x1="854.4" y1="837.5" x2="1201" y2="837.5" stroke="#111" stroke-width="1.5" />
<line x1="1065.2" y1="794.5" x2="1065.2" y2="882.5" stroke="#111" stroke-width="1.5" />
<line x1="1110.4" y1="794.5" x2="1110.4" y2="837.5" stroke="#111" stroke-width="1.2" />
<line x1="1155.6" y1="794.5" x2="1155.6" y2="837.5" stroke="#111" stroke-width="1.2" />
<line x1="1065.2" y1="809.3" x2="1201" y2="809.3" stroke="#111" stroke-width="1.1" />
<text x="662.4" y="789" font-size="12.6" text-anchor="start" fill="#111"  style="">Изм.</text>
<text x="690" y="789" font-size="12.6" text-anchor="start" fill="#111"  style="">Кол.</text>
<text x="720.3" y="789" font-size="12.6" text-anchor="start" fill="#111"  style="">Лист</text>
<text x="750" y="789" font-size="9.2" text-anchor="start" fill="#111"  style="">№док.</text>
<text x="783" y="789" font-size="12.6" text-anchor="start" fill="#111"  style="">Подп.</text>
<text x="825.8" y="789.5" font-size="12.6" text-anchor="start" fill="#111"  style="">Дата</text>
<text x="0" y="0" font-size="10.4" fill="#111" transform="translate(661.7,819.7) scale(0.82,1)">Разработал</text>
<text x="0" y="0" font-size="10.4" fill="#111" transform="translate(723,818.5) scale(0.9,1)">Решетова</text>
<text x="0" y="0" font-size="10.4" fill="#111" transform="translate(661.7,849) scale(0.81,1)">Н. контр.</text>
<text x="0" y="0" font-size="10.4" fill="#111" transform="translate(723,849) scale(0.9,1)">Двоеглазов</text>
<text x="0" y="0" font-size="10.4" fill="#111" transform="translate(661.7,865) scale(0.81,1)">ГИП</text>
<text x="0" y="0" font-size="10.4" fill="#111" transform="translate(723,865) scale(0.9,1)">Коротаев</text>
<text x="0" y="0" font-size="10.4" fill="#111" transform="translate(828.8,820.8) scale(0.78,1)">03.23</text>
<text x="0" y="0" font-size="10.4" fill="#111" transform="translate(828.8,850.3) scale(0.78,1)">03.23</text>
<text x="0" y="0" font-size="10.4" fill="#111" transform="translate(828.8,865.5) scale(0.78,1)">03.23</text>
<path d="M781.4,814.8 L794.6,806.1 C795.6,806.3 795,810.5 796,811 L801,808.6 L805.3,803.4" stroke="#111" stroke-width="1.1" fill="none" stroke-linecap="round"/>
<path d="M804.8,804 L803.6,805.8" stroke="#111" stroke-width="2" stroke-linecap="round"/>
<path d="M801,808.6 L798.3,816.6 C796.5,819 794,820.3 790.8,822.6 C787.5,825 787.6,829.6 790,829 C792.5,828.5 795,823 797.8,818.4 C799.5,816.8 801.5,815.5 803.2,813.5" stroke="#111" stroke-width="1.1" fill="none"/>
<path d="M809,807 C806,813 803,819 799,825.6 C800.5,823.5 802,818 804.4,814.6 C806,813 808.4,812.3 809.7,813.4 L806.4,819.3 M810.2,814.6 C811.5,814 813.5,814 812,817.3 M812.5,816 C813.5,815.6 815,815.8 815.6,816.8" stroke="#111" stroke-width="1.2" fill="none"/>
<path d="M787.3,857.6 C791,852 796,846 804,838.4" stroke="#111" stroke-width="1.7" fill="none" stroke-linecap="round"/>
<path d="M801,841.5 C800,843.5 798.5,846.5 800,849 C801.5,850 804,849 807,847.8 L810,846.4 C808,848.5 806.5,850.5 806.2,851.6 C809,851 812,849 816,846 C820,843.5 825,841.3 831.5,840.4" stroke="#111" stroke-width="1.05" fill="none"/>
<g stroke="#4a4a4a" stroke-width="0.75" fill="none"><ellipse cx="793.5" cy="861.5" rx="10" ry="4.2" transform="rotate(-38 793.5 861.5)"/><ellipse cx="797" cy="858.5" rx="5.5" ry="2.6" transform="rotate(-40 797 858.5)"/><path d="M789,867.5 C796,862 802,857 808.5,851.5 M792,869 C799,863 805,858 811,852 M797,868 C803,862 808,857 814,850.5 M800.5,867.5 C806,861 812,855 819.5,847.5 M803.5,867.5 C809,861 813,856 817.5,850 M806,866.5 C810,861 814,857 818.5,852 M812,851.5 C815,850 817,849.5 821.5,851.5"/><path d="M806.6,867.6 L802,876.6"/></g>
<text x="1028" y="737" font-size="12.6" text-anchor="middle" fill="#111"  style="">15-23П</text>
<text x="0" y="0" font-size="9.15" text-anchor="middle" fill="#111" transform="translate(1038.5,763) scale(1.148,1)">«Здание склада с АБК», расположенное по адресу:</text>
<text x="0" y="0" font-size="9.15" text-anchor="middle" fill="#111" transform="translate(1038.5,773.8) scale(1.148,1)">Тверская область, Конаковский район,</text>
<text x="0" y="0" font-size="9.15" text-anchor="middle" fill="#111" transform="translate(1038.5,784.2) scale(1.148,1)">пгт Редкино, ул. Геофизиков, уч. №13 а</text>
<text x="958.5" y="819.3" font-size="10.55" text-anchor="middle" fill="#111"  style="">ООО "РЕД-СТРОЙ"</text>
<text x="1067" y="806.8" font-size="12.6" text-anchor="start" fill="#111"  style="">Стадия</text>
<text x="1118.3" y="806.8" font-size="12.6" text-anchor="start" fill="#111"  style="">Лист</text>
<text x="1162" y="806.8" font-size="12.6" text-anchor="start" fill="#111"  style="">Листов</text>
<text x="1088.5" y="828" font-size="12.6" text-anchor="middle" fill="#111"  style="">ЭП</text>
<text x="1131.6" y="828.5" font-size="12.6" text-anchor="middle" fill="#111"  style="">11</text>
<text x="1183" y="828.5" font-size="12.6" text-anchor="middle" fill="#111"  style="">15</text>
<text x="960" y="863" font-size="10.5" text-anchor="middle" fill="#111"  style="">Маркировочный план на отм. 0.000</text>
<text x="1142.3" y="863" font-size="12.6" text-anchor="middle" fill="#111"  style="">ООО "Альянс"</text>
</svg>
</body></html>
